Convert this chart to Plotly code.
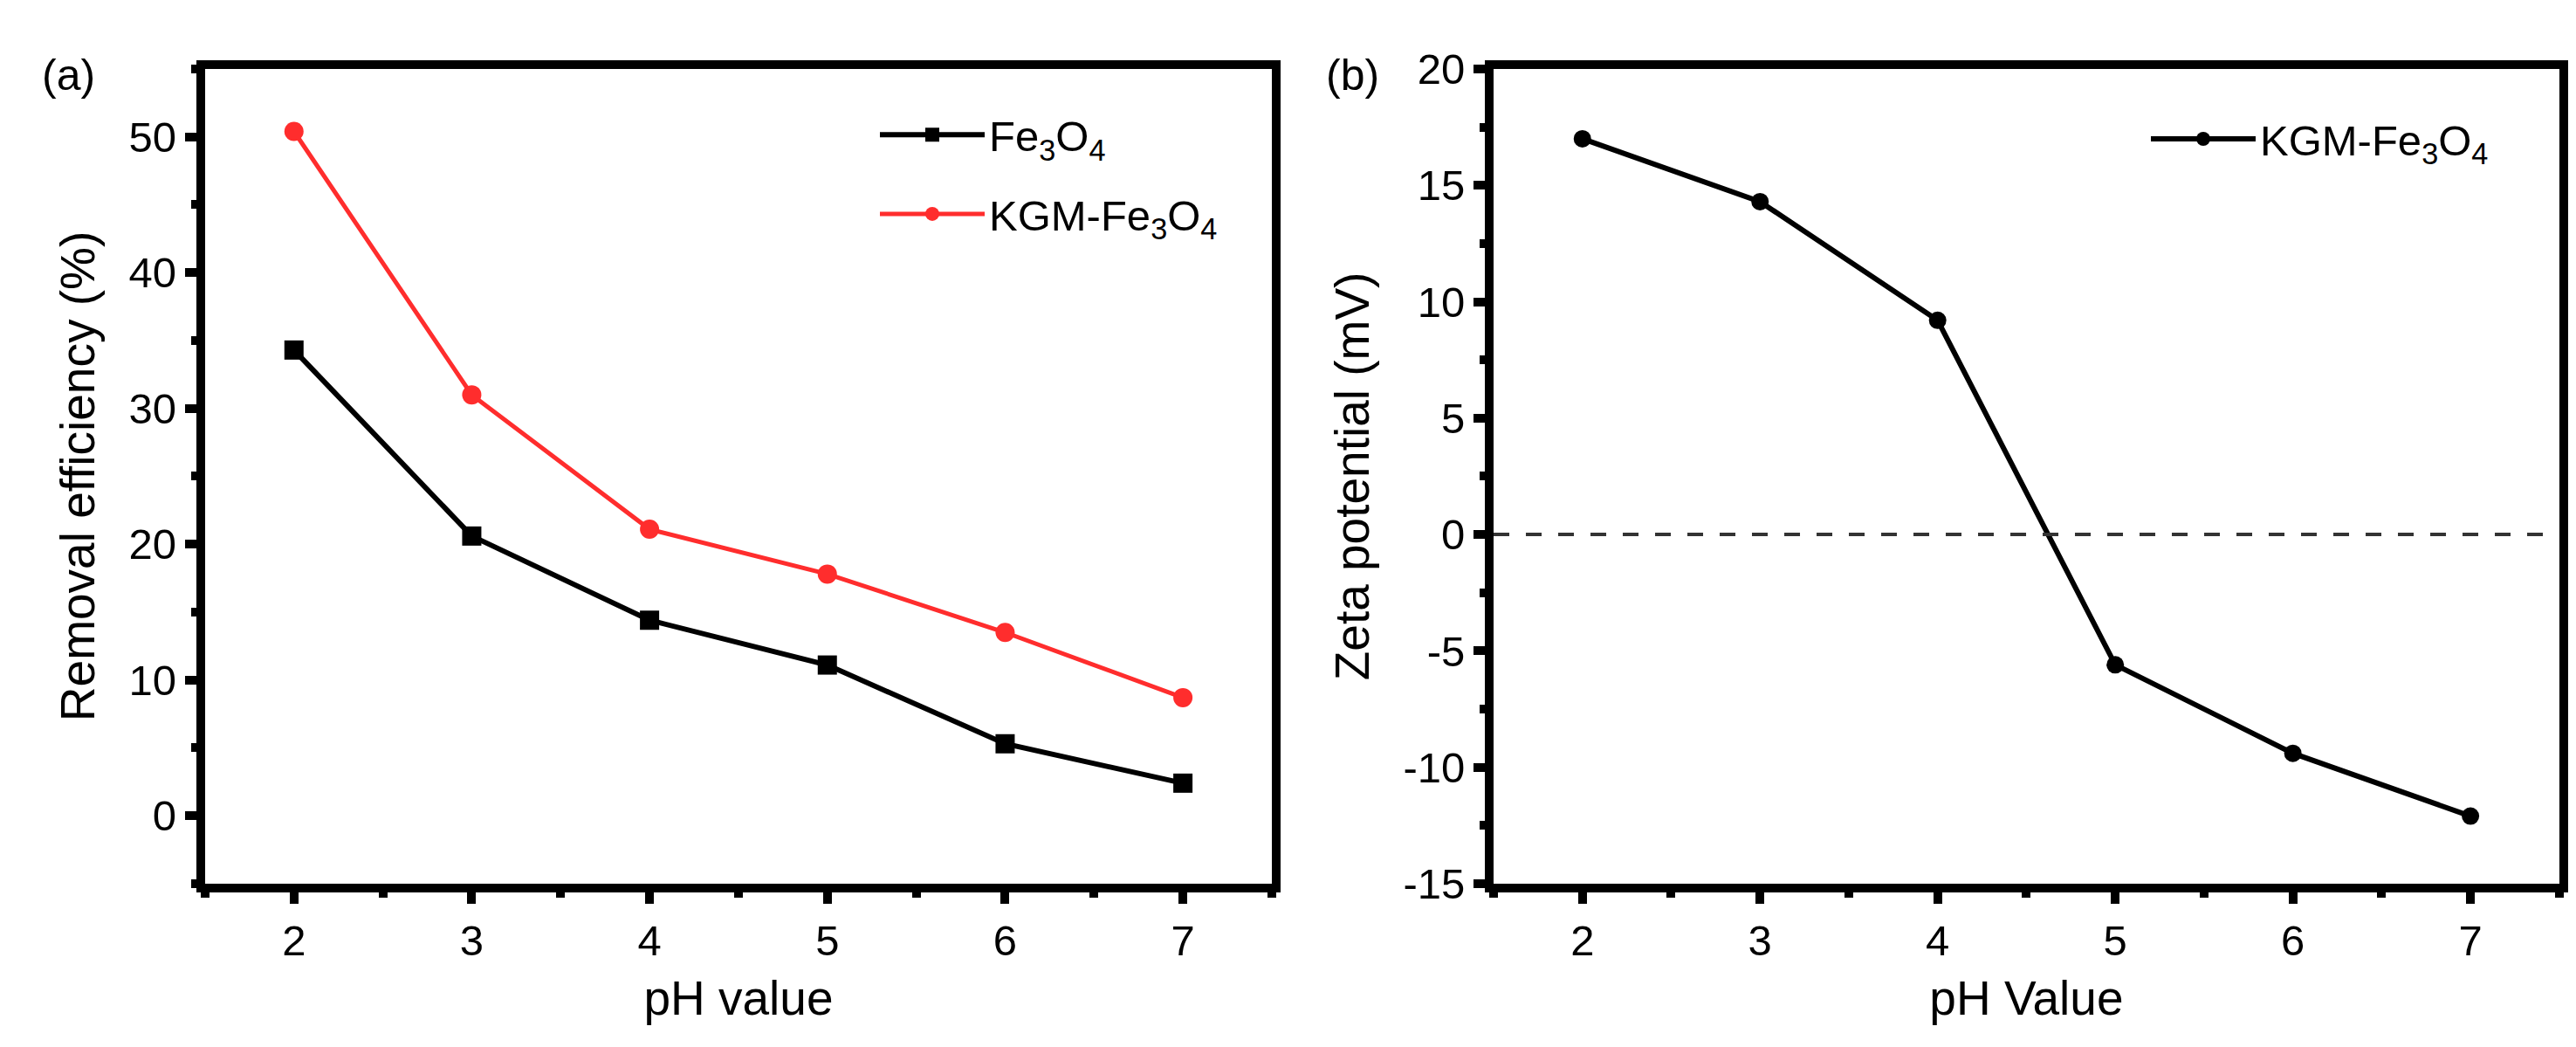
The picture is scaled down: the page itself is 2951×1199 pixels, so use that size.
import plotly.graph_objects as go

# data
ph = [2, 3, 4, 5, 6, 7]
removal_fe3o4 = [34.3, 20.6, 14.4, 11.1, 5.3, 2.4]
removal_kgm = [50.4, 31.0, 21.1, 17.8, 13.5, 8.7]
zeta_kgm = [17.0, 14.3, 9.2, -5.6, -9.4, -12.1]

# zeta ticks (the original uses a plain hyphen for negatives)
zeta_ticks = [-15, -10, -5, 0, 5, 10, 15, 20]
zeta_ticklabels = ["-15", "-10", "-5", "0", "5", "10", "15", "20"]

FONT = "Liberation Sans, Arial, sans-serif"
RED = "#ff2d2d"

data = [
    go.Scatter(
        x=ph, y=removal_fe3o4,
        mode="lines+markers",
        name="Fe<sub>3</sub>O<sub>4</sub>",
        line=dict(color="black", width=6),
        marker=dict(symbol="square", size=22, color="black"),
        xaxis="x", yaxis="y", legend="legend",
    ),
    go.Scatter(
        x=ph, y=removal_kgm,
        mode="lines+markers",
        name="KGM-Fe<sub>3</sub>O<sub>4</sub>",
        line=dict(color=RED, width=5),
        marker=dict(symbol="circle", size=22, color=RED),
        xaxis="x", yaxis="y", legend="legend2",
    ),
    go.Scatter(
        x=ph, y=zeta_kgm,
        mode="lines+markers",
        name="KGM-Fe<sub>3</sub>O<sub>4</sub>",
        line=dict(color="black", width=6),
        marker=dict(symbol="circle", size=20, color="black"),
        xaxis="x2", yaxis="y2", legend="legend3",
    ),
]

axis_style = dict(
    showline=True, linecolor="black", linewidth=10, mirror=True,
    ticks="outside", ticklen=13, tickwidth=10, tickcolor="black",
    showgrid=False, zeroline=False,
    tickfont=dict(family=FONT, size=49, color="black"),
)
minor_style = dict(ticks="outside", ticklen=6, tickwidth=10, tickcolor="black")
title_font = dict(family=FONT, size=55, color="black")

legend_style = dict(
    font=dict(family=FONT, size=49, color="black"),
    bgcolor="rgba(0,0,0,0)", itemwidth=120,
    xanchor="left", yanchor="middle",
)

layout = go.Layout(
    width=2951, height=1199,
    margin=dict(l=0, r=0, t=0, b=0),
    paper_bgcolor="white", plot_bgcolor="white",
    font=dict(family=FONT, color="black"),
    xaxis=dict(
        axis_style, domain=[0.0769, 0.4910], range=[1.5, 7.5],
        dtick=1, minor=dict(minor_style, dtick=0.5),
        title=dict(text="pH value", font=title_font, standoff=25),
    ),
    yaxis=dict(
        axis_style, domain=[0.1468, 0.9616], range=[-5, 55],
        dtick=10, minor=dict(minor_style, dtick=5),
        title=dict(text="Removal efficiency (%)", font=title_font, standoff=25),
    ),
    xaxis2=dict(
        axis_style, domain=[0.5771, 0.9908], range=[1.5, 7.5],
        dtick=1, minor=dict(minor_style, dtick=0.5),
        title=dict(text="pH Value", font=title_font, standoff=25),
        anchor="y2",
    ),
    yaxis2=dict(
        axis_style, domain=[0.1468, 0.9616], range=[-15, 20],
        tickvals=zeta_ticks, ticktext=zeta_ticklabels,
        minor=dict(minor_style, dtick=2.5),
        title=dict(text="Zeta potential (mV)", font=title_font, standoff=25),
        anchor="x2",
    ),
    legend=dict(legend_style, x=995 / 2951, y=1 - 125 / 1199),
    legend2=dict(legend_style, x=995 / 2951, y=1 - 220 / 1199),
    legend3=dict(legend_style, x=2451 / 2951, y=1 - 130 / 1199),
    shapes=[
        dict(type="line", xref="x2 domain", yref="y2", x0=0, x1=1, y0=0, y1=0,
             line=dict(color="#333333", width=4, dash="18px,19px")),
    ],
    annotations=[
        dict(text="(a)", x=70 / 2951, y=1 - 53 / 1199, xref="paper", yref="paper",
             xanchor="center", yanchor="middle",
             showarrow=False, font=dict(family=FONT, size=50, color="black")),
        dict(text="(b)", x=1541 / 2951, y=1 - 53 / 1199, xref="paper", yref="paper",
             xanchor="center", yanchor="middle",
             showarrow=False, font=dict(family=FONT, size=50, color="black")),
    ],
    showlegend=True,
)

fig = go.Figure(data=data, layout=layout)
fig.write_html("out.html")
